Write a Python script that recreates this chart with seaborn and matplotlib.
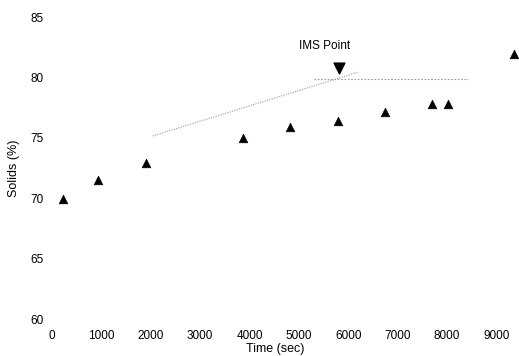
import pandas as pd
import matplotlib
matplotlib.use("Agg")
import matplotlib.pyplot as plt
import seaborn as sns

# measured solids over time
time_sec = [230, 930, 1900, 3870, 4820, 5790, 6740, 7700, 8030, 9350]
solids = [69.9, 71.5, 72.9, 75.0, 75.9, 76.4, 77.1, 77.8, 77.8, 81.9]

# IMS point marker
ims_time = [5810]
ims_solids = [80.75]

# guide lines (rising trend and plateau)
trend_time = [2040, 6210]
trend_solids = [75.15, 80.45]
plateau_time = [5300, 8420]
plateau_solids = [79.9, 79.9]

xticks = [0, 1000, 2000, 3000, 4000, 5000, 6000, 7000, 8000, 9000]
yticks = [60, 65, 70, 75, 80, 85]

df = pd.DataFrame({"Time": time_sec, "Solids": solids})

sns.set_style("white")
plt.rcParams["font.family"] = ["Liberation Sans", "DejaVu Sans"]
plt.rcParams["text.color"] = "black"
plt.rcParams["axes.labelcolor"] = "black"

fig = plt.figure(figsize=(5.19, 3.56), dpi=100)
ax = fig.add_axes([52 / 519, 1 - 319 / 356, (516 - 52) / 519, (319 - 17) / 356])

ax.plot(trend_time, trend_solids, color="#9a9a9a", linestyle=(0, (1, 1.2)), linewidth=0.8)
ax.plot(plateau_time, plateau_solids, color="#9a9a9a", linestyle=(0, (1.5, 1.5)), linewidth=0.8)

sns.scatterplot(data=df, x="Time", y="Solids", marker="^", color="black",
                s=38, edgecolor="black", linewidth=0.5, ax=ax, clip_on=False, zorder=3)
ax.scatter(ims_time, ims_solids, marker="v", color="black", s=60, zorder=3, clip_on=False)
ax.annotate("IMS Point", xy=(ims_time[0], ims_solids[0]), xytext=(-10, 12),
            textcoords="offset points", fontsize=8.5, ha="center", va="bottom")

ax.set_xlim(0, 9400)
ax.set_ylim(60, 85)
ax.set_xticks(xticks)
ax.set_yticks(yticks)
ax.tick_params(axis="both", length=0, labelsize=8.5, colors="black")
ax.tick_params(axis="x", pad=8)
ax.tick_params(axis="y", pad=6)
for sp in ax.spines.values():
    sp.set_visible(False)

ax.set_xlabel("Time (sec)", fontsize=9)
ax.set_ylabel("Solids (%)", fontsize=9)
ax.xaxis.set_label_coords(0.48, -0.08)
ax.yaxis.set_label_coords(-0.068, 0.5)

fig.savefig("out.png", dpi=100)
